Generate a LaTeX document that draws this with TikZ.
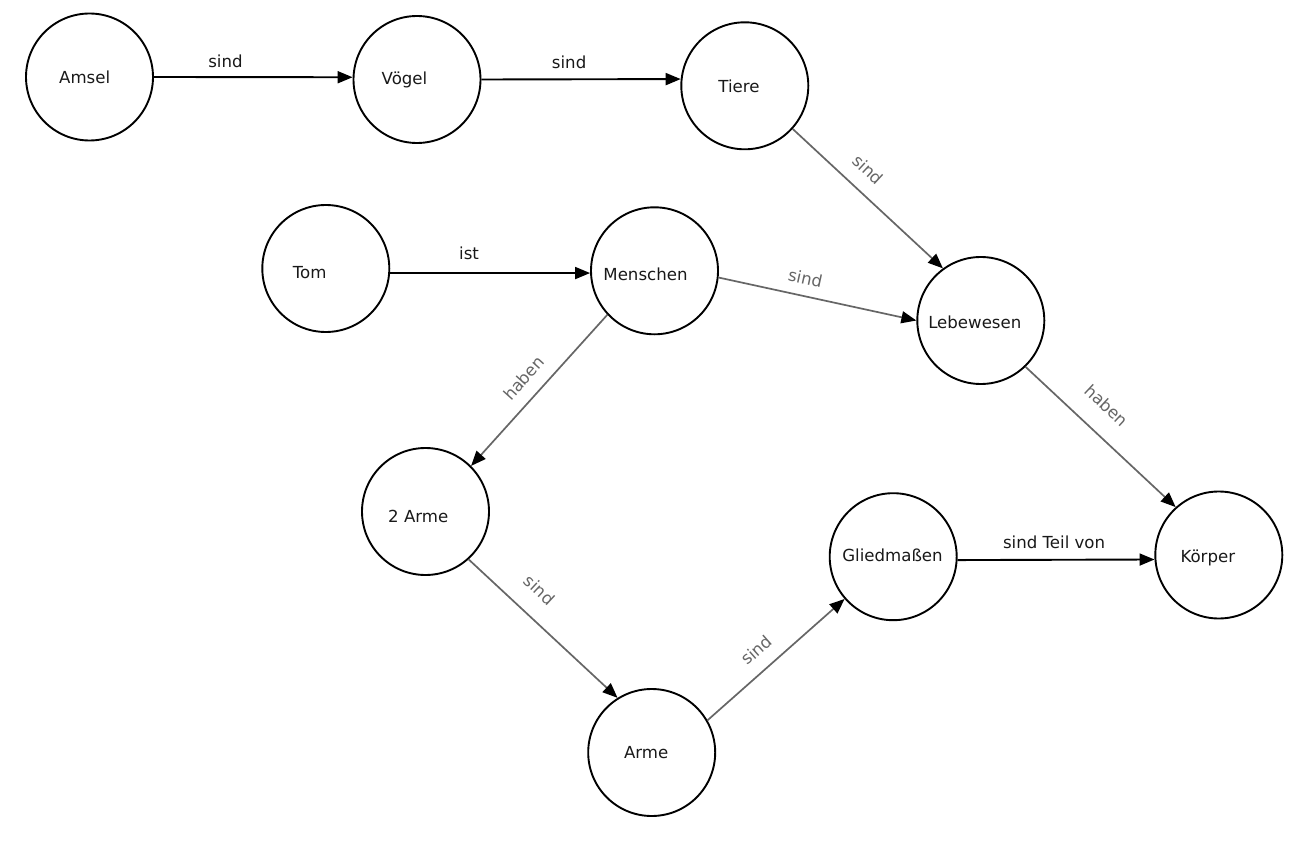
\documentclass[tikz,border=0pt]{standalone}
\usepackage{fontspec}
\setmainfont{DejaVu Sans}
\usetikzlibrary{arrows.meta}
\begin{document}
\begin{tikzpicture}[x=1pt,y=-1pt,
  conc/.style={circle,draw=black,line width=1.9pt,minimum size=127pt,inner sep=0pt},
  ctext/.style={anchor=base,inner sep=0pt,font=\fontsize{16.6}{18}\selectfont,text=black!90},
  blk/.style={draw=black,line width=1.9pt,-{Triangle[length=15pt,width=12pt]}},
  gry/.style={draw=black!60,line width=1.7pt,-{Triangle[length=15pt,width=12pt,color=black]}},
  blab/.style={font=\fontsize{16.6}{18}\selectfont,inner sep=0pt,text=black!90},
  glab/.style={font=\fontsize{16.6}{18}\selectfont,inner sep=0pt,text=black!60,sloped},
]
\useasboundingbox[fill=white] (0,0) rectangle (1301,842);

% concept circles
\node[conc] (amsel)   at (89.5,77)    {};
\node[conc] (voegel)  at (417,79.5)   {};
\node[conc] (tiere)   at (744.8,85.8) {};
\node[conc] (tom)     at (325.8,268.5){};
\node[conc] (mensch)  at (654.5,270.8){};
\node[conc] (leb)     at (980.8,320.5){};
\node[conc] (arme2)   at (425.5,511.5){};
\node[conc] (koerper) at (1218.8,555) {};
\node[conc] (glied)   at (893.2,556.7){};
\node[conc] (arme)    at (651.7,752.5){};

% concept texts
\node[ctext] (amsel-t)   at (84.7,83.9)   {Amsel};
\node[ctext] (voegel-t)  at (404.5,84.2)  {Vögel};
\node[ctext] (tiere-t)   at (739,92.2)    {Tiere};
\node[ctext] (tom-t)     at (309.7,278.9) {Tom};
\node[ctext] (mensch-t)  at (645.5,280.5) {Menschen};
\node[ctext] (leb-t)     at (974.8,328.9) {Lebewesen};
\node[ctext] (arme2-t)   at (418.3,522.2) {2 Arme};
\node[ctext] (koerper-t) at (1207.8,562.2){Körper};
\node[ctext] (glied-t)   at (892.5,561.9) {Gliedmaßen};
\node[ctext] (arme-t)    at (646.2,758.9) {Arme};

% black horizontal relations
\draw[blk] (amsel.east) -- node[blab,pos=0.36,above=8.7pt] (l1) {sind} (voegel.178.4);
\draw[blk] (voegel.0.2) -- node[blab,pos=0.44,above=9.4pt] (l2) {sind} (tiere.174.5);
\draw[blk] (tom.-4.9) -- node[blab,pos=0.395,above=12pt] (l3) {ist} (mensch.182.9);
\draw[blk] (glied.-3) -- node[blab,pos=0.49,above=10.4pt] (l4) {sind Teil von} (koerper.184.5);

% gray diagonal relations
\draw[gry] (tiere.-42.4) -- node[glab,pos=0.405,above=14.2pt] (l5) {sind} (leb.126.5);
\draw[gry] (mensch.-6.1) -- node[glab,pos=0.42,above=10.2pt] (l6) {sind} (leb.180);
\draw[gry] (mensch.223.9) -- node[glab,pos=0.506,above=12.3pt] (l7) {haben} (arme2.45.8);
\draw[gry] (leb.-46.2) -- node[glab,pos=0.417,above=19.6pt] (l8) {haben} (koerper.132.7);
\draw[gry] (arme2.-48) -- node[glab,pos=0.358,above=18.5pt] (l9) {sind} (arme.122.9);
\draw[gry] (arme.30.8) -- node[glab,pos=0.456,above=13pt] (l10) {sind} (glied.221.5);
\end{tikzpicture}
\end{document}
